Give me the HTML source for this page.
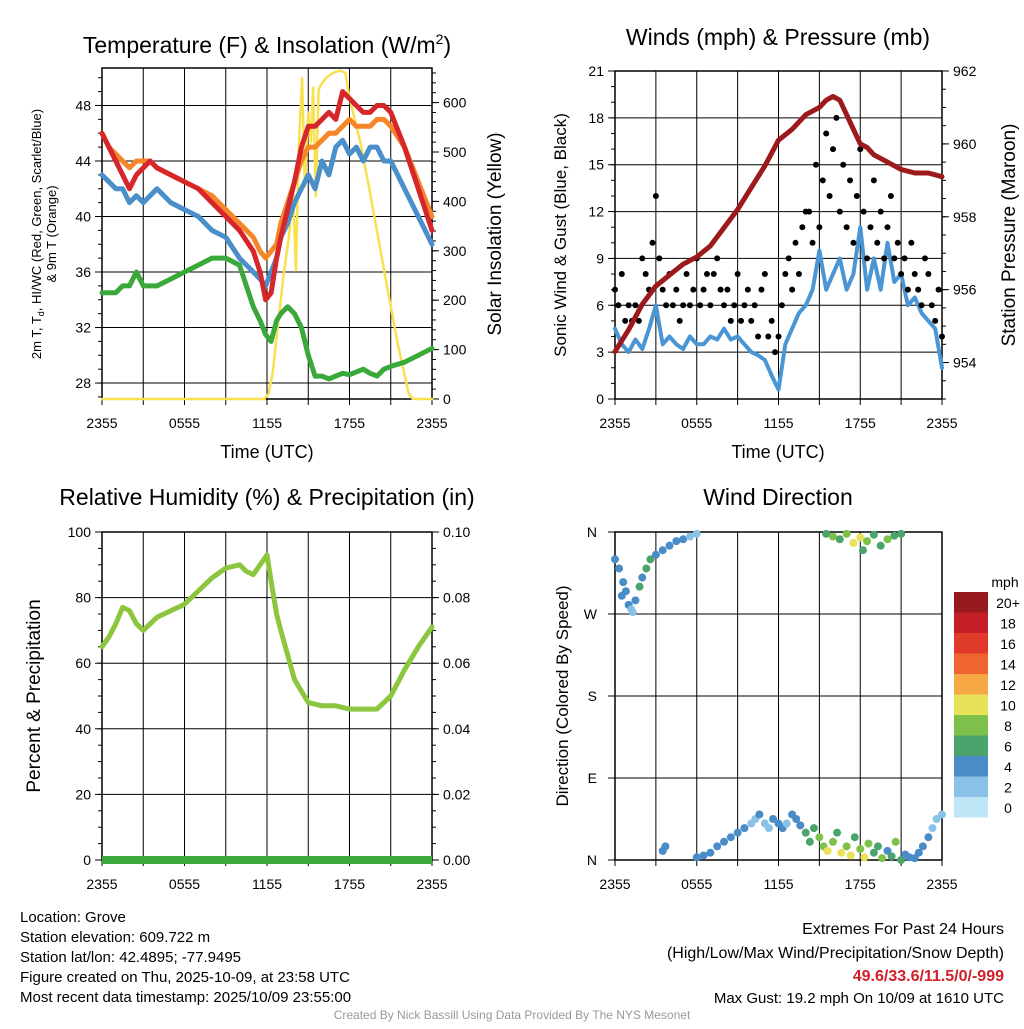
<!DOCTYPE html>
<html><head><meta charset="utf-8"><style>
body{margin:0;background:#fff;width:1024px;height:1024px;overflow:hidden}
svg{font-family:"Liberation Sans",sans-serif}
</style></head><body>
<svg id="s" width="1024" height="1024" xmlns="http://www.w3.org/2000/svg"></svg>
<script>
// ---- data ----
const xTicks=["2355","0555","1155","1755","2355"];
const tempT=[0,0.5,1,1.5,2,2.5,3,3.5,4,5,6,7,8,9,10,11,11.5,11.9,12.3,12.7,13,13.5,14,14.5,15,15.5,16,16.5,17,17.5,18,18.5,19,19.5,20,20.5,21,22,23,24];
const redT=[46,45,44,43,42,43,43.5,44,43.5,43,42.5,42,41,40,39,37.5,36,34,34.5,37,38.5,40.5,42.5,45,46.5,46.5,47,47.5,47,49,48.5,48,47.5,47.5,48,48,47.5,45,42,39];
const orangeT=[46,45,44.5,44,43.5,44,44,44,43.5,43,42.5,42,41.5,40.5,39.5,38.5,37.5,37,37.5,38,39.5,41,42.5,44,45,45,45.5,46,46,46.5,47,46.5,46.5,46.5,47,47,46.5,45,42.5,40];
const blueT=[43,42.5,42,42,41,41.5,41,41.5,42,41,40.5,40,39,38.5,37,36,35.5,35,36,37,38.5,39.5,41,42,43,42,44,43,45,45.5,44.5,45,44,45,45,44,44,42,40,38];
const greenT=[34.5,34.5,34.5,35,35,36,35,35,35,35.5,36,36.5,37,37,36.5,33.5,32.5,31.5,31,32.5,33,33.5,33,32,30,28.5,28.5,28.3,28.5,28.7,28.6,28.8,29,28.7,28.5,29,29.2,29.5,30,30.5];
const solT=[0,11.8,12.1,12.4,12.8,13.2,13.6,13.9,14.1,14.3,14.55,14.75,15,15.2,15.35,15.55,15.75,15.9,16.3,16.8,17.3,17.7,18,18.8,19.5,20.6,21.5,22.3,22.6,24];
const solV=[0,0,10,50,150,250,330,420,260,500,650,430,580,520,630,410,625,635,650,660,665,660,610,518,417,247,113,12,0,0];
const windT=[0,0.5,1,1.5,2,2.5,3,3.5,4,4.5,5,5.5,6,6.5,7,7.5,8,8.5,9,9.5,10,10.5,11,11.5,12,12.5,13,13.5,14,14.5,15,15.5,16,16.5,17,17.5,18,18.5,19,19.5,20,20.5,21,21.5,22,22.5,23,23.5,24];
const windV=[4.5,3.5,3,3.8,3.2,4.5,6,3.5,4,3.5,3.2,4,3.5,3.5,4,3.8,4.5,3.8,4,3.5,3,2.8,2.5,1.5,0.6,3.5,4.5,5.5,6,7,9.5,7,8,9,7,8,11,7,9,7,10,7.5,8,6,6.5,5.5,5,4.5,2];
const gustV=[7,6,8,5,6,5,6,5,9,8,7,10,13,9,7,6,8,6,7,5,6,8,6,7,9,6,7,8,6,8,9,7,6,7,5,6,8,5,6,7,5,6,4,7,8,4,5,3,4,6,8,9,7,10,8,11,12,12,10,15,11,14,17,13,16,18,12,15,11,14,10,13,16,12,9,11,14,10,12,9,11,13,9,10,8,9,7,10,8,7,6,9,8,6,5,7,4];
const presT=[0,1,2,3,4,5,6,7,8,9,10,11,12,13,14,14.5,15,15.5,16,16.5,17,17.5,18,18.5,19,20,21,22,23,24];
const presV=[954.3,954.9,955.6,956.1,956.4,956.7,956.9,957.2,957.7,958.2,958.8,959.4,960.1,960.4,960.8,960.9,961.0,961.2,961.3,961.2,960.8,960.4,960.0,959.9,959.7,959.5,959.3,959.2,959.2,959.1];
const rhT=[0,0.5,1,1.5,2,2.5,3,4,5,6,7,8,9,10,10.5,11,11.5,12,12.3,12.7,13,14,15,16,17,18,19,20,21,22,23,24];
const rhV=[65,68,72,77,76,72,70,74,76,78,82,86,89,90,88,87,90,93,85,75,70,55,48,47,47,46,46,46,50,58,65,71];
const dirT=[0,0.3,0.5,0.6,0.8,1,1.2,1.3,1.5,1.8,2,2.3,2.6,3,3.5,4,4.5,5,5.5,6,3.5,3.7,6,6.5,7,7.5,8,8.5,9,9.5,10,10.3,10.6,11,11.3,11.6,12,12.3,12.6,13,13.3,13.6,14,14.3,14.6,15,15.3,15.6,16,16.3,16.6,17,17.3,17.6,18,18.3,18.6,19,19.3,19.6,20,20.3,20.6,21,21.3,21.6,22,22.3,22.6,23,23.3,23.6,24,16,16.5,17,17.5,18,18.5,19,19.5,20,20.5,21,15.5,18.2];
const dirV=[330,320,290,305,295,280,275,272,285,300,310,320,330,335,340,345,350,352,355,358,10,15,3,5,8,15,20,25,30,35,40,45,50,40,35,45,40,35,40,50,45,38,30,20,35,25,15,10,20,30,8,15,5,25,12,3,18,8,15,2,10,4,20,0,6,3,2,8,15,25,35,45,50,355,352,358,348,354,350,357,345,352,356,358,358,340];
const dirS=[4,4,3,4,3,3,2,2,4,5,4,6,5,4,4,3,4,3,2,2,4,4,4,4,3,4,3,4,4,3,2,2,3,2,2,3,4,3,2,3,4,4,6,6,5,7,8,9,8,6,10,7,9,6,8,10,7,5,6,8,4,6,7,5,4,3,4,4,3,3,2,2,2,8,6,7,10,9,8,6,5,7,6,5,6,6];
const cbLabels=["0","2","4","6","8","10","12","14","16","18","20+"];
const cbColors=["#bfe6f7","#8ac1e6","#4a8cc8","#4aa46c","#7fc04a","#e7e25a","#f6a844","#ef6530","#e03a2a","#c41f28","#961a1d"];
const tempTicks=[28,32,36,40,44,48],solTicks=[0,100,200,300,400,500,600];
const windTicks=[0,3,6,9,12,15,18,21],presTicks=[954,956,958,960,962];
const rhTicks=[0,20,40,60,80,100],prTicks=[0,0.02,0.04,0.06,0.08,0.1];
const dirTicks=[0,90,180,270,360],dirLabels=["N","E","S","W","N"];

// ---- helpers ----
const S=document.getElementById('s');const NS="http://www.w3.org/2000/svg";
function el(t,a,txt){const e=document.createElementNS(NS,t);for(const k in a)e.setAttribute(k,a[k]);if(txt!==undefined)e.textContent=txt;S.appendChild(e);return e;}
function lin(d0,d1,r0,r1){return v=>r0+(v-d0)*(r1-r0)/(d1-d0);}
function poly(xs,ys,fx,fy,col,w,name){let p=xs.map((t,i)=>fx(t).toFixed(1)+","+fy(ys[i]).toFixed(1)).join(" ");
 const e=el('polyline',{points:p,fill:'none',stroke:col,'stroke-width':w,'stroke-linejoin':'round','stroke-linecap':'round'});
 
 return e;}
function txt(x,y,s,size,anchor,extra){const e=el('text',Object.assign({x:x,y:y,'font-size':size,'text-anchor':anchor||'middle'},extra||{}),s);
 
 return e;}
function frame(x0,x1,y0,y1,name){
 for(let i=0;i<=8;i++){const x=x0+(x1-x0)*i/8;const l=el('line',{x1:x,x2:x,y1:y0,y2:y1,stroke:'#000','stroke-width':1});
  
  
  const t=el('line',{x1:x,x2:x,y1:y1,y2:y1+6,stroke:'#000','stroke-width':1});
  
  }
 xTicks.forEach((s,i)=>txt(x0+(x1-x0)*i/4,y1+29,s,14));
 const r=el('rect',{x:x0,y:y0,width:x1-x0,height:y1-y0,fill:'none',stroke:'#000','stroke-width':1.5});
 
 
}
function yax(x,y0,y1,d0,d1,ticks,minorStep,side,fmt,gridTo){
 const f=lin(d0,d1,y1,y0);const dir=side==='l'?-1:1;
 let start=Math.ceil(d0/minorStep)*minorStep;
 for(let v=start;v<=d1+1e-9;v+=minorStep){const y=f(v);const t=el('line',{x1:x,x2:x+dir*4,y1:y,y2:y,stroke:'#000','stroke-width':1});
  
  }
 ticks.forEach(v=>{const y=f(v);const t=el('line',{x1:x,x2:x+dir*7,y1:y,y2:y,stroke:'#000','stroke-width':1});
  
  
  txt(x+dir*11,y+5,fmt(v),14,side==='l'?'end':'start');
  if(gridTo!==undefined){const g=el('line',{x1:x,x2:gridTo,y1:y,y2:y,stroke:'#000','stroke-width':1});
   
   }});
 return f;}
// Panel 1
{const x0=102,x1=432,y0=68,y1=399;const fx=lin(0,24,x0,x1);
 const fy=yax(x0,y0,y1,26.85,50.7,tempTicks,1,'l',v=>v,x1);
 const fs=yax(x1,y0,y1,0,670,solTicks,20,'r',v=>v);
 frame(x0,x1,y0,y1,'temperature-plot-area');
 poly(solT,solV,fx,fs,'#f8e04e',2.5,'solar-insolation-line');
 poly(tempT,greenT,fx,fy,'#3aa83a',5,'dewpoint-line');
 poly(tempT,blueT,fx,fy,'#4a8fca',5,'windchill-line');
 poly(tempT,orangeT,fx,fy,'#f5862a',5,'9m-temp-line');
 poly(tempT,redT,fx,fy,'#d7262a',5,'2m-temp-line');
 const t=txt(267,53,'',23);t.innerHTML='Temperature (F) &amp; Insolation (W/m<tspan dy="-9" font-size="14">2</tspan><tspan dy="9">)</tspan>';
 txt(267,458,'Time (UTC)',18);
 txt(0,0,'2m T, T',13,'middle',{transform:'translate(41,234) rotate(-90)'}).innerHTML='2m T, T<tspan font-size="9" dy="3">d</tspan><tspan dy="-3">, HI/WC (Red, Green, Scarlet/Blue)</tspan>';
 txt(0,0,'& 9m T (Orange)',13,'middle',{transform:'translate(56,234) rotate(-90)'});
 txt(0,0,'Solar Insolation (Yellow)',19,'middle',{transform:'translate(501,234) rotate(-90)'});
}
// Panel 2
{const x0=615,x1=942,y0=71,y1=399;const fx=lin(0,24,x0,x1);
 const fy=yax(x0,y0,y1,0,21,windTicks,1,'l',v=>v,x1);
 const fp=yax(x1,y0,y1,953,962,presTicks,0.5,'r',v=>v);
 frame(x0,x1,y0,y1,'winds-plot-area');
 poly(windT,windV,fx,fy,'#4a95d3',4,'sonic-wind-line');
 gustV.forEach((v,i)=>{const c=el('circle',{cx:fx(i*0.25),cy:fy(v),r:3,fill:'#000'});
  
  });
 poly(presT,presV,fx,fp,'#9c1a1c',5,'pressure-line');
 txt(778,45,'Winds (mph) & Pressure (mb)',23);
 txt(778,458,'Time (UTC)',18);
 txt(0,0,'Sonic Wind & Gust (Blue, Black)',17,'middle',{transform:'translate(566,235) rotate(-90)'});
 txt(0,0,'Station Pressure (Maroon)',19,'middle',{transform:'translate(1015,235) rotate(-90)'});
}
// Panel 3
{const x0=102,x1=432,y0=532,y1=860;const fx=lin(0,24,x0,x1);
 const fy=yax(x0,y0,y1,0,100,rhTicks,5,'l',v=>v,x1);
 yax(x1,y0,y1,0,0.1,prTicks,0.005,'r',v=>v.toFixed(2));
 frame(x0,x1,y0,y1,'humidity-plot-area');
 poly(rhT,rhV,fx,fy,'#8cc63f',5,'humidity-line');
 const p=el('line',{x1:x0,x2:x1,y1:y1,y2:y1,stroke:'#3aa83a','stroke-width':8});
 
 
 txt(267,505,'Relative Humidity (%) & Precipitation (in)',23);
 txt(0,0,'Percent & Precipitation',19,'middle',{transform:'translate(40,696) rotate(-90)'});
}
// Panel 4
{const x0=615,x1=942,y0=532,y1=860;const fx=lin(0,24,x0,x1);const fy=lin(0,360,y1,y0);
 dirTicks.forEach((v,i)=>{const y=fy(v);const t=el('line',{x1:x0-7,x2:x0,y1:y,y2:y,stroke:'#000'});
  
  
  const g=el('line',{x1:x0,x2:x1,y1:y,y2:y,stroke:'#000'});
  
  
  txt(x0-18,y+5,dirLabels[i],14,'end');});
 frame(x0,x1,y0,y1,'direction-plot-area');
 dirV.forEach((v,i)=>{const c=el('circle',{cx:fx(dirT[i]),cy:fy(v),r:4,fill:cbColors[Math.min(10,Math.round(dirS[i]/2))]});
  
  });
 txt(778,505,'Wind Direction',23);
 txt(0,0,'Direction (Colored By Speed)',17,'middle',{transform:'translate(568,696) rotate(-90)'});
 txt(1005,587,'mph',14,'middle');
 cbColors.forEach((c,i)=>{const y=797-i*20.5;const r=el('rect',{x:954,y:y,width:34,height:20.5,fill:c});
  
  
  txt(1008,y+16,cbLabels[i],14,'middle');});
}
// footer
['Location: Grove','Station elevation: 609.722 m','Station lat/lon: 42.4895; -77.9495','Figure created on Thu, 2025-10-09, at 23:58 UTC','Most recent data timestamp: 2025/10/09 23:55:00'].forEach((s,i)=>txt(20,922+i*20,s,15,'start'));
txt(1004,934,'Extremes For Past 24 Hours',16,'end');
txt(1004,958,'(High/Low/Max Wind/Precipitation/Snow Depth)',16,'end');
txt(1004,981,'49.6/33.6/11.5/0/-999',16,'end',{fill:'#d0202a','font-weight':'bold'});
txt(1004,1003,'Max Gust: 19.2 mph On 10/09 at 1610 UTC',15,'end');
txt(512,1019,'Created By Nick Bassill Using Data Provided By The NYS Mesonet',12,'middle',{fill:'#999'});
</script>
</body></html>
